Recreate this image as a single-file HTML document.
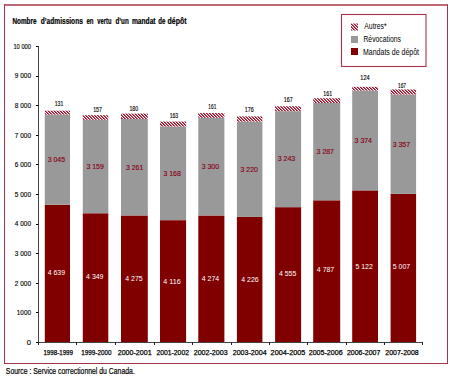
<!DOCTYPE html>
<html><head><meta charset="utf-8"><style>
html,body{margin:0;padding:0;background:#fff;width:450px;height:377px;overflow:hidden}
svg{display:block}
</style></head><body>
<svg width="450" height="377" viewBox="0 0 450 377">
<defs>
<pattern id="h" patternUnits="userSpaceOnUse" x="0" y="0" width="3" height="3">
<rect x="0" y="0" width="3" height="3" fill="#fff"/>
<rect x="0" y="0" width="1" height="1" fill="#a0102c"/>
<rect x="1" y="1" width="1" height="1" fill="#a0102c"/>
<rect x="2" y="2" width="1" height="1" fill="#a0102c"/>
<rect x="1" y="0" width="1" height="1" fill="#c85a6c"/>
<rect x="2" y="1" width="1" height="1" fill="#c85a6c"/>
<rect x="0" y="2" width="1" height="1" fill="#c85a6c"/>
</pattern>
</defs>
<rect x="0" y="0" width="450" height="377" fill="#fff"/>
<line x1="4" y1="5" x2="448" y2="5" stroke="#a53448" stroke-width="1.3"/>
<line x1="4" y1="363.5" x2="448" y2="363.5" stroke="#a53448" stroke-width="1"/>
<line x1="4.5" y1="4.5" x2="4.5" y2="364" stroke="#a53448" stroke-width="1"/>
<line x1="447.5" y1="4.5" x2="447.5" y2="364" stroke="#a53448" stroke-width="1"/>

<text x="24.45" y="24.00" font-family="Liberation Sans, sans-serif" font-size="8.6" font-weight="bold" text-anchor="middle" textLength="24.09" lengthAdjust="spacingAndGlyphs" fill="#000" stroke="#000" stroke-width="0.2">Nombre</text>
<text x="61.80" y="24.00" font-family="Liberation Sans, sans-serif" font-size="8.6" font-weight="bold" text-anchor="middle" textLength="42.04" lengthAdjust="spacingAndGlyphs" fill="#000" stroke="#000" stroke-width="0.2">d’admissions</text>
<text x="90.00" y="24.00" font-family="Liberation Sans, sans-serif" font-size="8.6" font-weight="bold" text-anchor="middle" textLength="7.1" lengthAdjust="spacingAndGlyphs" fill="#000" stroke="#000" stroke-width="0.2">en</text>
<text x="104.35" y="24.00" font-family="Liberation Sans, sans-serif" font-size="8.6" font-weight="bold" text-anchor="middle" textLength="14.1" lengthAdjust="spacingAndGlyphs" fill="#000" stroke="#000" stroke-width="0.2">vertu</text>
<text x="122.10" y="24.00" font-family="Liberation Sans, sans-serif" font-size="8.6" font-weight="bold" text-anchor="middle" textLength="13.24" lengthAdjust="spacingAndGlyphs" fill="#000" stroke="#000" stroke-width="0.2">d’un</text>
<text x="143.75" y="24.00" font-family="Liberation Sans, sans-serif" font-size="8.6" font-weight="bold" text-anchor="middle" textLength="23.7" lengthAdjust="spacingAndGlyphs" fill="#000" stroke="#000" stroke-width="0.2">mandat</text>
<text x="161.80" y="24.00" font-family="Liberation Sans, sans-serif" font-size="8.6" font-weight="bold" text-anchor="middle" textLength="7.1" lengthAdjust="spacingAndGlyphs" fill="#000" stroke="#000" stroke-width="0.2">de</text>
<text x="177.10" y="24.00" font-family="Liberation Sans, sans-serif" font-size="8.6" font-weight="bold" text-anchor="middle" textLength="19.0" lengthAdjust="spacingAndGlyphs" fill="#000" stroke="#000" stroke-width="0.2">dépôt</text>
<rect x="341.5" y="14.5" width="84.5" height="52" fill="#fff" stroke="#a53448" stroke-width="1.1"/>
<rect x="351" y="23.5" width="7" height="7" fill="url(#h)"/>
<rect x="351" y="36" width="7" height="7" fill="#999999"/>
<rect x="351" y="48" width="7" height="7" fill="#800000"/>
<text x="364.30" y="28.60" font-family="Liberation Sans, sans-serif" font-size="8.2" textLength="22.4" lengthAdjust="spacingAndGlyphs" fill="#000">Autres*</text>
<text x="363.40" y="42.30" font-family="Liberation Sans, sans-serif" font-size="8.2" textLength="37.6" lengthAdjust="spacingAndGlyphs" fill="#000">Révocations</text>
<text x="363.00" y="55.20" font-family="Liberation Sans, sans-serif" font-size="8.2" textLength="56.0" lengthAdjust="spacingAndGlyphs" fill="#000">Mandats de dépôt</text>
<line x1="38.5" y1="46" x2="38.5" y2="342.5" stroke="#444" stroke-width="1"/>
<line x1="38" y1="342.5" x2="422.5" y2="342.5" stroke="#444" stroke-width="1"/>
<line x1="36" y1="342.5" x2="38.5" y2="342.5" stroke="#000" stroke-width="1"/>
<text x="31.00" y="344.70" font-family="Liberation Sans, sans-serif" font-size="7.6" text-anchor="end" fill="#000" stroke="#000" stroke-width="0.15">0</text>
<line x1="36" y1="312.5" x2="38.5" y2="312.5" stroke="#000" stroke-width="1"/>
<text x="31.00" y="315.10" font-family="Liberation Sans, sans-serif" font-size="7.6" text-anchor="end" textLength="14.2" lengthAdjust="spacingAndGlyphs" fill="#000" stroke="#000" stroke-width="0.15">1000</text>
<line x1="36" y1="283.5" x2="38.5" y2="283.5" stroke="#000" stroke-width="1"/>
<text x="31.00" y="285.50" font-family="Liberation Sans, sans-serif" font-size="7.6" text-anchor="end" textLength="16.2" lengthAdjust="spacingAndGlyphs" fill="#000" stroke="#000" stroke-width="0.15">2 000</text>
<line x1="36" y1="253.5" x2="38.5" y2="253.5" stroke="#000" stroke-width="1"/>
<text x="31.00" y="255.90" font-family="Liberation Sans, sans-serif" font-size="7.6" text-anchor="end" textLength="16.2" lengthAdjust="spacingAndGlyphs" fill="#000" stroke="#000" stroke-width="0.15">3 000</text>
<line x1="36" y1="224.5" x2="38.5" y2="224.5" stroke="#000" stroke-width="1"/>
<text x="31.00" y="226.30" font-family="Liberation Sans, sans-serif" font-size="7.6" text-anchor="end" textLength="16.2" lengthAdjust="spacingAndGlyphs" fill="#000" stroke="#000" stroke-width="0.15">4 000</text>
<line x1="36" y1="194.5" x2="38.5" y2="194.5" stroke="#000" stroke-width="1"/>
<text x="31.00" y="196.70" font-family="Liberation Sans, sans-serif" font-size="7.6" text-anchor="end" textLength="16.2" lengthAdjust="spacingAndGlyphs" fill="#000" stroke="#000" stroke-width="0.15">5 000</text>
<line x1="36" y1="164.5" x2="38.5" y2="164.5" stroke="#000" stroke-width="1"/>
<text x="31.00" y="167.10" font-family="Liberation Sans, sans-serif" font-size="7.6" text-anchor="end" textLength="16.2" lengthAdjust="spacingAndGlyphs" fill="#000" stroke="#000" stroke-width="0.15">6 000</text>
<line x1="36" y1="135.5" x2="38.5" y2="135.5" stroke="#000" stroke-width="1"/>
<text x="31.00" y="137.50" font-family="Liberation Sans, sans-serif" font-size="7.6" text-anchor="end" textLength="16.2" lengthAdjust="spacingAndGlyphs" fill="#000" stroke="#000" stroke-width="0.15">7 000</text>
<line x1="36" y1="105.5" x2="38.5" y2="105.5" stroke="#000" stroke-width="1"/>
<text x="31.00" y="107.90" font-family="Liberation Sans, sans-serif" font-size="7.6" text-anchor="end" textLength="16.2" lengthAdjust="spacingAndGlyphs" fill="#000" stroke="#000" stroke-width="0.15">8 000</text>
<line x1="36" y1="76.5" x2="38.5" y2="76.5" stroke="#000" stroke-width="1"/>
<text x="31.00" y="78.30" font-family="Liberation Sans, sans-serif" font-size="7.6" text-anchor="end" textLength="16.2" lengthAdjust="spacingAndGlyphs" fill="#000" stroke="#000" stroke-width="0.15">9 000</text>
<line x1="36" y1="46.5" x2="38.5" y2="46.5" stroke="#000" stroke-width="1"/>
<text x="31.00" y="48.70" font-family="Liberation Sans, sans-serif" font-size="7.6" text-anchor="end" textLength="17.6" lengthAdjust="spacingAndGlyphs" fill="#000" stroke="#000" stroke-width="0.15">10 000</text>
<line x1="38.5" y1="342" x2="38.5" y2="345" stroke="#222" stroke-width="1"/>
<line x1="76.5" y1="342" x2="76.5" y2="345" stroke="#222" stroke-width="1"/>
<line x1="115.5" y1="342" x2="115.5" y2="345" stroke="#222" stroke-width="1"/>
<line x1="154.5" y1="342" x2="154.5" y2="345" stroke="#222" stroke-width="1"/>
<line x1="192.5" y1="342" x2="192.5" y2="345" stroke="#222" stroke-width="1"/>
<line x1="231.5" y1="342" x2="231.5" y2="345" stroke="#222" stroke-width="1"/>
<line x1="269.5" y1="342" x2="269.5" y2="345" stroke="#222" stroke-width="1"/>
<line x1="307.5" y1="342" x2="307.5" y2="345" stroke="#222" stroke-width="1"/>
<line x1="346.5" y1="342" x2="346.5" y2="345" stroke="#222" stroke-width="1"/>
<line x1="384.5" y1="342" x2="384.5" y2="345" stroke="#222" stroke-width="1"/>
<line x1="422.5" y1="342" x2="422.5" y2="345" stroke="#222" stroke-width="1"/>
<rect x="44.80" y="204.69" width="25.20" height="137.31" fill="#800000"/>
<rect x="44.80" y="114.55" width="25.20" height="90.13" fill="#999999"/>
<rect x="44.80" y="110.68" width="25.20" height="3.88" fill="url(#h)"/>
<text x="59.00" y="105.50" font-family="Liberation Sans, sans-serif" font-size="7.6" text-anchor="middle" textLength="8.6" lengthAdjust="spacingAndGlyphs" fill="#000" stroke="#000" stroke-width="0.15">131</text>
<text x="56.40" y="161.84" font-family="Liberation Sans, sans-serif" font-size="7.6" text-anchor="middle" textLength="17.4" lengthAdjust="spacingAndGlyphs" fill="#8a0018" stroke="#8a0018" stroke-width="0.15">3 045</text>
<text x="56.40" y="275.46" font-family="Liberation Sans, sans-serif" font-size="7.6" text-anchor="middle" textLength="17.4" lengthAdjust="spacingAndGlyphs" fill="#fff">4 639</text>
<text x="43.40" y="355.00" font-family="Liberation Sans, sans-serif" font-size="7.3" textLength="29.6" lengthAdjust="spacingAndGlyphs" fill="#000" stroke="#000" stroke-width="0.25">1998-1999</text>
<rect x="82.80" y="213.27" width="25.50" height="128.73" fill="#800000"/>
<rect x="82.80" y="119.76" width="25.50" height="93.51" fill="#999999"/>
<rect x="82.80" y="115.12" width="25.50" height="4.65" fill="url(#h)"/>
<text x="97.60" y="111.90" font-family="Liberation Sans, sans-serif" font-size="7.6" text-anchor="middle" textLength="8.8" lengthAdjust="spacingAndGlyphs" fill="#000" stroke="#000" stroke-width="0.15">157</text>
<text x="95.10" y="169.09" font-family="Liberation Sans, sans-serif" font-size="7.6" text-anchor="middle" textLength="17.4" lengthAdjust="spacingAndGlyphs" fill="#8a0018" stroke="#8a0018" stroke-width="0.15">3 159</text>
<text x="94.80" y="279.15" font-family="Liberation Sans, sans-serif" font-size="7.6" text-anchor="middle" textLength="17.4" lengthAdjust="spacingAndGlyphs" fill="#fff">4 349</text>
<text x="81.30" y="355.00" font-family="Liberation Sans, sans-serif" font-size="7.3" textLength="30.2" lengthAdjust="spacingAndGlyphs" fill="#000" stroke="#000" stroke-width="0.25">1999-2000</text>
<rect x="121.00" y="215.46" width="26.80" height="126.54" fill="#800000"/>
<rect x="121.00" y="118.93" width="26.80" height="96.53" fill="#999999"/>
<rect x="121.00" y="113.61" width="26.80" height="5.33" fill="url(#h)"/>
<text x="133.80" y="111.40" font-family="Liberation Sans, sans-serif" font-size="7.6" text-anchor="middle" textLength="8.8" lengthAdjust="spacingAndGlyphs" fill="#000" stroke="#000" stroke-width="0.15">180</text>
<text x="134.65" y="169.72" font-family="Liberation Sans, sans-serif" font-size="7.6" text-anchor="middle" textLength="17.4" lengthAdjust="spacingAndGlyphs" fill="#8a0018" stroke="#8a0018" stroke-width="0.15">3 261</text>
<text x="134.00" y="280.90" font-family="Liberation Sans, sans-serif" font-size="7.6" text-anchor="middle" textLength="17.4" lengthAdjust="spacingAndGlyphs" fill="#fff">4 275</text>
<text x="117.70" y="355.00" font-family="Liberation Sans, sans-serif" font-size="7.3" textLength="33.9" lengthAdjust="spacingAndGlyphs" fill="#000" stroke="#000" stroke-width="0.25">2000-2001</text>
<rect x="160.00" y="220.17" width="26.10" height="121.83" fill="#800000"/>
<rect x="160.00" y="126.39" width="26.10" height="93.77" fill="#999999"/>
<rect x="160.00" y="121.57" width="26.10" height="4.82" fill="url(#h)"/>
<text x="173.90" y="117.50" font-family="Liberation Sans, sans-serif" font-size="7.6" text-anchor="middle" textLength="8.5" lengthAdjust="spacingAndGlyphs" fill="#000" stroke="#000" stroke-width="0.15">163</text>
<text x="172.10" y="175.80" font-family="Liberation Sans, sans-serif" font-size="7.6" text-anchor="middle" textLength="17.4" lengthAdjust="spacingAndGlyphs" fill="#8a0018" stroke="#8a0018" stroke-width="0.15">3 168</text>
<text x="171.95" y="283.70" font-family="Liberation Sans, sans-serif" font-size="7.6" text-anchor="middle" textLength="17.4" lengthAdjust="spacingAndGlyphs" fill="#fff">4 116</text>
<text x="156.40" y="355.00" font-family="Liberation Sans, sans-serif" font-size="7.3" textLength="32.6" lengthAdjust="spacingAndGlyphs" fill="#000" stroke="#000" stroke-width="0.25">2001-2002</text>
<rect x="198.30" y="215.49" width="26.10" height="126.51" fill="#800000"/>
<rect x="198.30" y="117.81" width="26.10" height="97.68" fill="#999999"/>
<rect x="198.30" y="113.04" width="26.10" height="4.77" fill="url(#h)"/>
<text x="212.30" y="109.20" font-family="Liberation Sans, sans-serif" font-size="7.6" text-anchor="middle" textLength="8.0" lengthAdjust="spacingAndGlyphs" fill="#000" stroke="#000" stroke-width="0.15">161</text>
<text x="210.40" y="168.87" font-family="Liberation Sans, sans-serif" font-size="7.6" text-anchor="middle" textLength="17.4" lengthAdjust="spacingAndGlyphs" fill="#8a0018" stroke="#8a0018" stroke-width="0.15">3 300</text>
<text x="210.45" y="280.91" font-family="Liberation Sans, sans-serif" font-size="7.6" text-anchor="middle" textLength="17.4" lengthAdjust="spacingAndGlyphs" fill="#fff">4 274</text>
<text x="193.70" y="355.00" font-family="Liberation Sans, sans-serif" font-size="7.3" textLength="33.9" lengthAdjust="spacingAndGlyphs" fill="#000" stroke="#000" stroke-width="0.25">2002-2003</text>
<rect x="236.90" y="216.91" width="25.50" height="125.09" fill="#800000"/>
<rect x="236.90" y="121.60" width="25.50" height="95.31" fill="#999999"/>
<rect x="236.90" y="116.39" width="25.50" height="5.21" fill="url(#h)"/>
<text x="249.20" y="111.60" font-family="Liberation Sans, sans-serif" font-size="7.6" text-anchor="middle" textLength="8.9" lengthAdjust="spacingAndGlyphs" fill="#000" stroke="#000" stroke-width="0.15">176</text>
<text x="249.20" y="171.62" font-family="Liberation Sans, sans-serif" font-size="7.6" text-anchor="middle" textLength="17.4" lengthAdjust="spacingAndGlyphs" fill="#8a0018" stroke="#8a0018" stroke-width="0.15">3 220</text>
<text x="250.00" y="281.73" font-family="Liberation Sans, sans-serif" font-size="7.6" text-anchor="middle" textLength="17.4" lengthAdjust="spacingAndGlyphs" fill="#fff">4 226</text>
<text x="232.70" y="355.00" font-family="Liberation Sans, sans-serif" font-size="7.3" textLength="33.9" lengthAdjust="spacingAndGlyphs" fill="#000" stroke="#000" stroke-width="0.25">2003-2004</text>
<rect x="275.10" y="207.17" width="26.00" height="134.83" fill="#800000"/>
<rect x="275.10" y="111.18" width="26.00" height="95.99" fill="#999999"/>
<rect x="275.10" y="106.24" width="26.00" height="4.94" fill="url(#h)"/>
<text x="288.30" y="101.80" font-family="Liberation Sans, sans-serif" font-size="7.6" text-anchor="middle" textLength="8.9" lengthAdjust="spacingAndGlyphs" fill="#000" stroke="#000" stroke-width="0.15">167</text>
<text x="286.45" y="160.90" font-family="Liberation Sans, sans-serif" font-size="7.6" text-anchor="middle" textLength="17.4" lengthAdjust="spacingAndGlyphs" fill="#8a0018" stroke="#8a0018" stroke-width="0.15">3 243</text>
<text x="287.60" y="276.41" font-family="Liberation Sans, sans-serif" font-size="7.6" text-anchor="middle" textLength="17.4" lengthAdjust="spacingAndGlyphs" fill="#fff">4 555</text>
<text x="270.60" y="355.00" font-family="Liberation Sans, sans-serif" font-size="7.3" textLength="34.7" lengthAdjust="spacingAndGlyphs" fill="#000" stroke="#000" stroke-width="0.25">2004-2005</text>
<rect x="313.20" y="200.30" width="27.00" height="141.70" fill="#800000"/>
<rect x="313.20" y="103.01" width="27.00" height="97.30" fill="#999999"/>
<rect x="313.20" y="98.24" width="27.00" height="4.77" fill="url(#h)"/>
<text x="327.70" y="95.70" font-family="Liberation Sans, sans-serif" font-size="7.6" text-anchor="middle" textLength="8.8" lengthAdjust="spacingAndGlyphs" fill="#000" stroke="#000" stroke-width="0.15">161</text>
<text x="325.30" y="153.68" font-family="Liberation Sans, sans-serif" font-size="7.6" text-anchor="middle" textLength="17.4" lengthAdjust="spacingAndGlyphs" fill="#8a0018" stroke="#8a0018" stroke-width="0.15">3 287</text>
<text x="325.55" y="272.22" font-family="Liberation Sans, sans-serif" font-size="7.6" text-anchor="middle" textLength="17.4" lengthAdjust="spacingAndGlyphs" fill="#fff">4 787</text>
<text x="308.70" y="355.00" font-family="Liberation Sans, sans-serif" font-size="7.3" textLength="33.9" lengthAdjust="spacingAndGlyphs" fill="#000" stroke="#000" stroke-width="0.25">2005-2006</text>
<rect x="352.20" y="190.39" width="25.80" height="151.61" fill="#800000"/>
<rect x="352.20" y="90.52" width="25.80" height="99.87" fill="#999999"/>
<rect x="352.20" y="86.85" width="25.80" height="3.67" fill="url(#h)"/>
<text x="365.00" y="80.10" font-family="Liberation Sans, sans-serif" font-size="7.6" text-anchor="middle" textLength="9.4" lengthAdjust="spacingAndGlyphs" fill="#000" stroke="#000" stroke-width="0.15">124</text>
<text x="363.30" y="142.72" font-family="Liberation Sans, sans-serif" font-size="7.6" text-anchor="middle" textLength="17.4" lengthAdjust="spacingAndGlyphs" fill="#8a0018" stroke="#8a0018" stroke-width="0.15">3 374</text>
<text x="364.15" y="269.06" font-family="Liberation Sans, sans-serif" font-size="7.6" text-anchor="middle" textLength="17.4" lengthAdjust="spacingAndGlyphs" fill="#fff">5 122</text>
<text x="347.00" y="355.00" font-family="Liberation Sans, sans-serif" font-size="7.3" textLength="33.3" lengthAdjust="spacingAndGlyphs" fill="#000" stroke="#000" stroke-width="0.25">2006-2007</text>
<rect x="390.60" y="193.79" width="25.50" height="148.21" fill="#800000"/>
<rect x="390.60" y="94.43" width="25.50" height="99.37" fill="#999999"/>
<rect x="390.60" y="89.48" width="25.50" height="4.94" fill="url(#h)"/>
<text x="402.00" y="87.50" font-family="Liberation Sans, sans-serif" font-size="7.6" text-anchor="middle" textLength="8.1" lengthAdjust="spacingAndGlyphs" fill="#000" stroke="#000" stroke-width="0.15">167</text>
<text x="401.35" y="146.73" font-family="Liberation Sans, sans-serif" font-size="7.6" text-anchor="middle" textLength="17.4" lengthAdjust="spacingAndGlyphs" fill="#8a0018" stroke="#8a0018" stroke-width="0.15">3 357</text>
<text x="401.50" y="269.07" font-family="Liberation Sans, sans-serif" font-size="7.6" text-anchor="middle" textLength="17.4" lengthAdjust="spacingAndGlyphs" fill="#fff">5 007</text>
<text x="385.30" y="355.00" font-family="Liberation Sans, sans-serif" font-size="7.3" textLength="33.4" lengthAdjust="spacingAndGlyphs" fill="#000" stroke="#000" stroke-width="0.25">2007-2008</text>
<text x="5.80" y="374.00" font-family="Liberation Sans, sans-serif" font-size="9" textLength="129" lengthAdjust="spacingAndGlyphs" fill="#000" stroke="#000" stroke-width="0.2">Source : Service correctionnel du Canada.</text>
</svg></body></html>
